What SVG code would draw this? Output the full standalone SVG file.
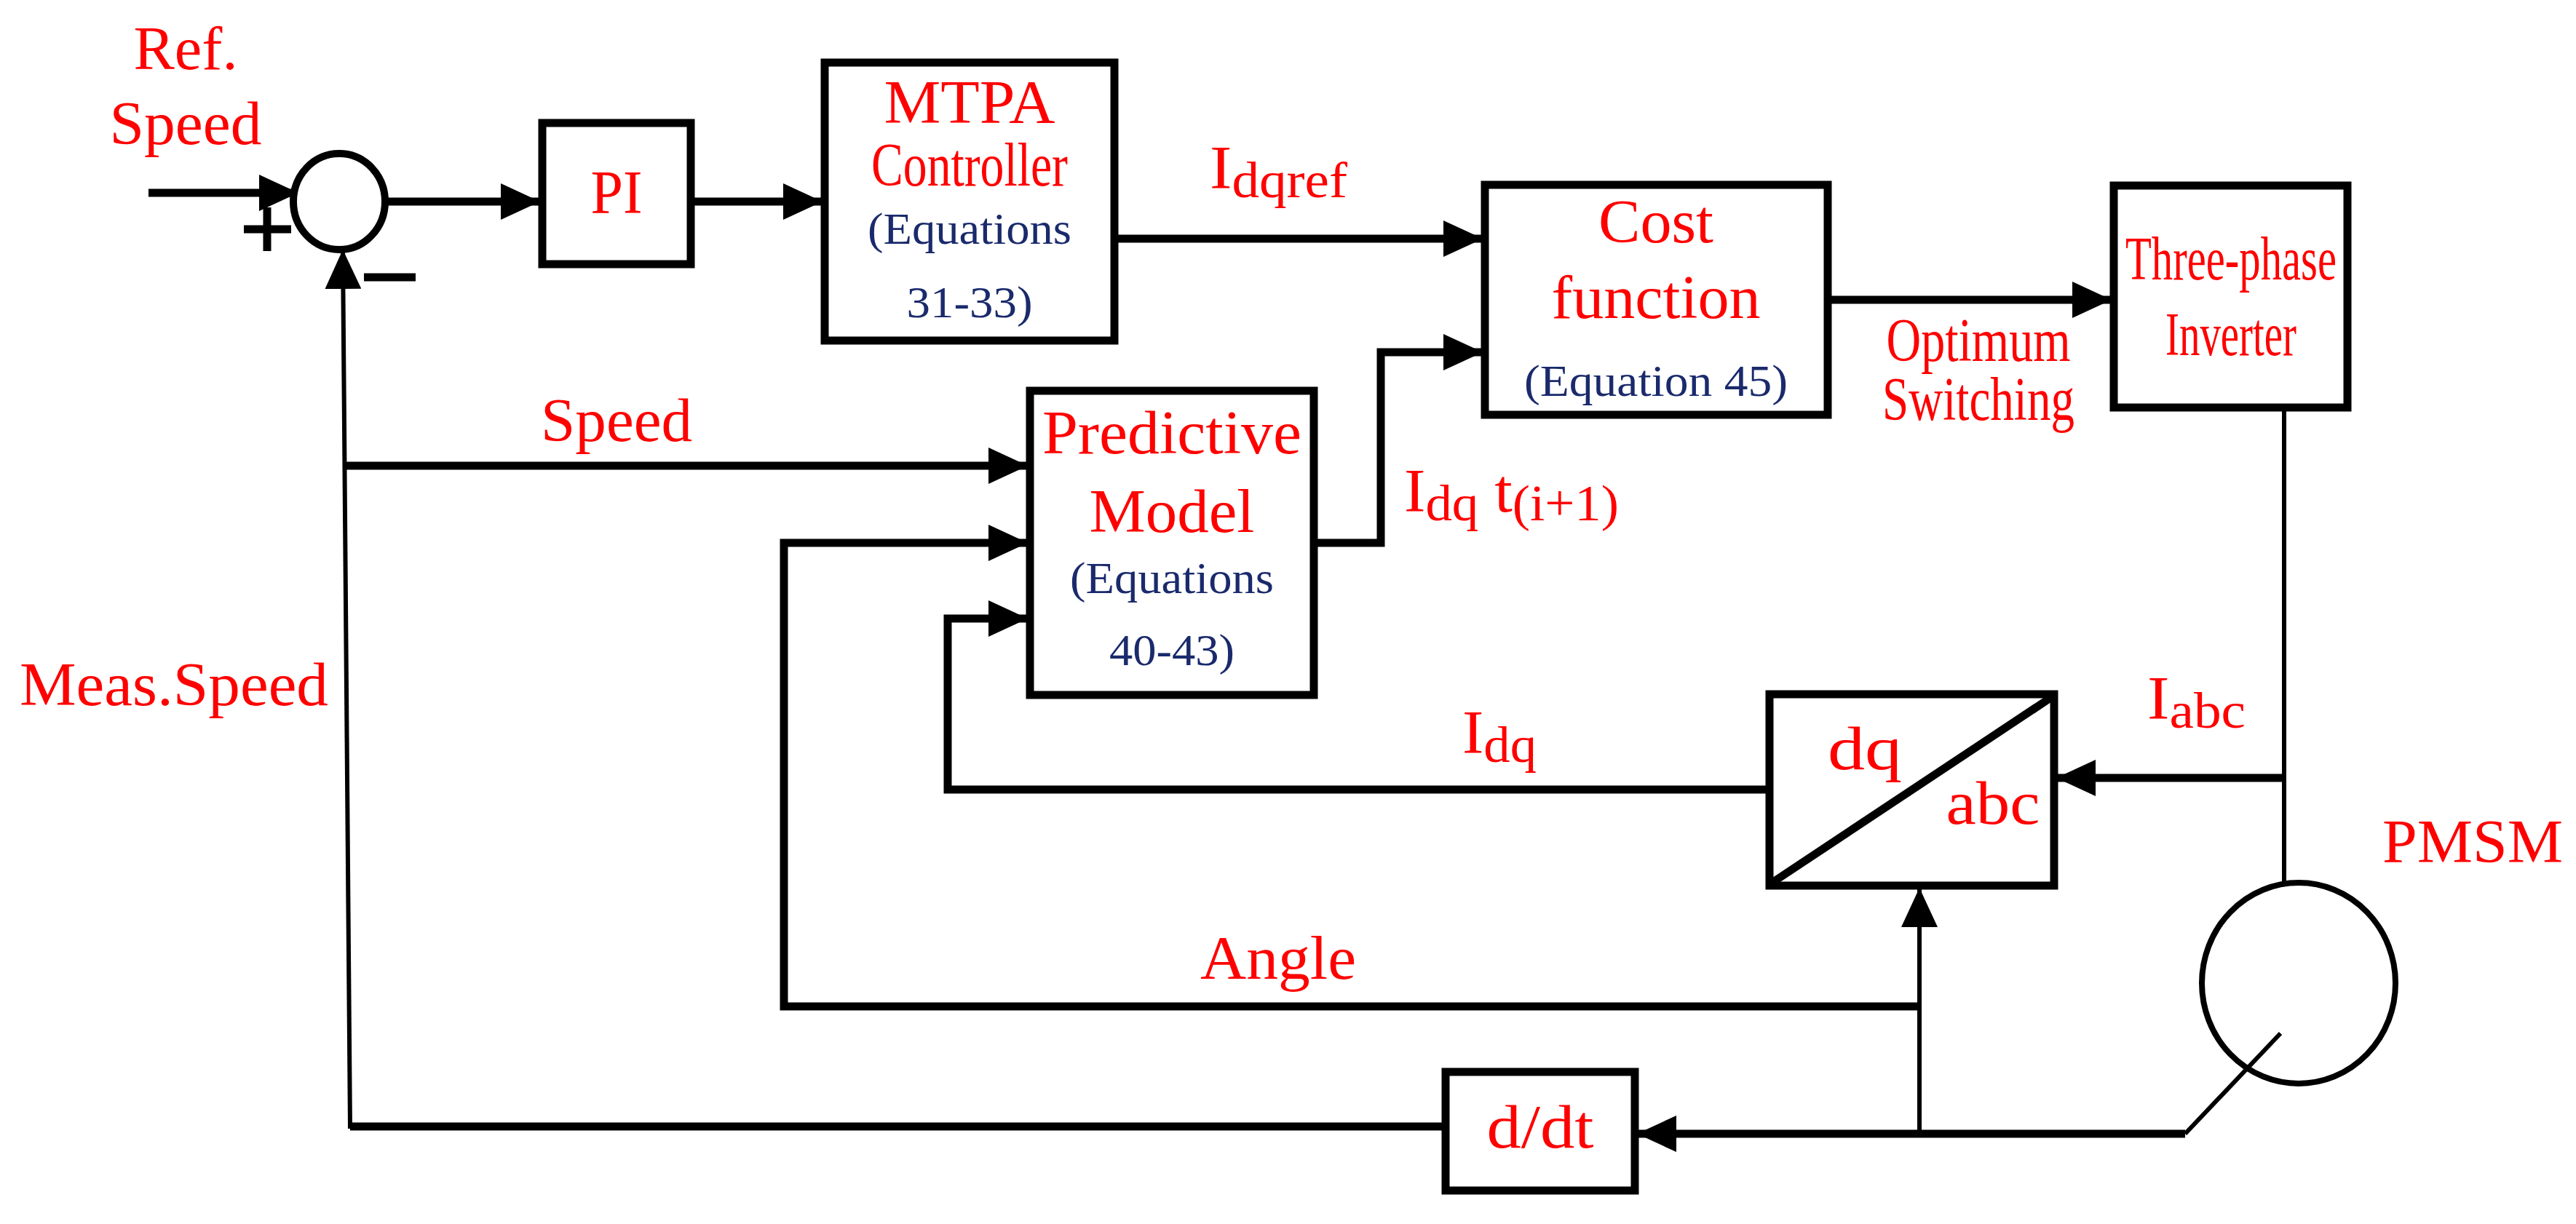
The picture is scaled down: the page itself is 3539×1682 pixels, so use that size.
<svg xmlns="http://www.w3.org/2000/svg" width="3539" height="1682" viewBox="0 0 3539 1682">
<style>
.box{fill:#fff;stroke:#000;stroke-width:11}
.ln{fill:none;stroke:#000;stroke-width:11}
.tn{fill:none;stroke:#000;stroke-width:6}
.r{fill:#f00;font-family:"Liberation Serif",serif;font-size:85px}
.b{fill:#1a2a6c;font-family:"Liberation Serif",serif;font-size:62px}
.m{text-anchor:middle}
</style>
<defs>
<marker id="ah" markerUnits="userSpaceOnUse" markerWidth="56" markerHeight="50" refX="52" refY="25" orient="auto">
<path d="M0,0 L54,25 L0,50 Z" fill="#000"/>
</marker>
</defs>
<rect width="3539" height="1682" fill="#fff"/>
<g id="connectors">
<path class="ln" d="M204,265 H408" marker-end="url(#ah)"/>
<path class="ln" d="M531,277 H740" marker-end="url(#ah)"/>
<path class="ln" d="M949,277 H1128" marker-end="url(#ah)"/>
<path class="ln" d="M1531,328 H2035" marker-end="url(#ah)"/>
<path class="ln" d="M1805,746 H1897 V484 H2035" marker-end="url(#ah)"/>
<path class="ln" d="M2511,412 H2899" marker-end="url(#ah)"/>
<path class="tn" d="M3138,560 V1216"/>
<path class="ln" d="M3138,1069 H2827" marker-end="url(#ah)"/>
<path class="ln" d="M2431,1085 H1302 V850 H1410" marker-end="url(#ah)"/>
<path class="ln" d="M2637,1383 H1077 V746 H1410" marker-end="url(#ah)"/>
<path class="tn" d="M3133,1420 L3002,1558"/>
<path class="ln" d="M3002,1558 H2251" marker-end="url(#ah)"/>
<path class="tn" d="M2637,1558 V1222" marker-end="url(#ah)"/>
<path class="ln" d="M1986,1548 H481"/>
<path class="tn" d="M481,1551 L471,345" marker-end="url(#ah)"/>
<path class="ln" d="M471,640 H1410" marker-end="url(#ah)"/>
</g>
<g id="sum">
<ellipse cx="466" cy="277" rx="63" ry="66" fill="#fff" stroke="#000" stroke-width="10"/>
<path class="ln" d="M335,315 H400 M367,285 V345"/>
<path class="ln" d="M500,381 H571"/>
</g>
<g id="refspeed">
<text class="r m" x="255" y="95" textLength="143" lengthAdjust="spacingAndGlyphs">Ref.</text>
<text class="r m" x="255" y="198" textLength="209" lengthAdjust="spacingAndGlyphs">Speed</text>
</g>
<g id="pi"><rect class="box" x="745" y="169" width="204" height="194"/><text class="r m" x="847" y="293" textLength="71" lengthAdjust="spacingAndGlyphs">PI</text></g>
<g id="mtpa"><rect class="box" x="1133" y="86" width="398" height="382"/>
<text class="r m" x="1332" y="169" font-size="92" textLength="235" lengthAdjust="spacingAndGlyphs">MTPA</text>
<text class="r m" x="1332" y="255" font-size="72" textLength="270" lengthAdjust="spacingAndGlyphs">Controller</text>
<text class="b m" x="1332" y="335" font-size="70" textLength="280" lengthAdjust="spacingAndGlyphs">(Equations</text>
<text class="b m" x="1332" y="436" font-size="70" textLength="173" lengthAdjust="spacingAndGlyphs">31-33)</text></g>
<g id="cost"><rect class="box" x="2040" y="254" width="471" height="316"/>
<text class="r m" x="2275" y="333" font-size="95" textLength="158" lengthAdjust="spacingAndGlyphs">Cost</text>
<text class="r m" x="2275" y="437" font-size="95" textLength="287" lengthAdjust="spacingAndGlyphs">function</text>
<text class="b m" x="2275" y="544" font-size="70" textLength="362" lengthAdjust="spacingAndGlyphs">(Equation 45)</text></g>
<g id="inverter"><rect class="box" x="2904" y="255" width="321" height="305"/>
<text class="r m" x="3065" y="384" font-size="95" textLength="290" lengthAdjust="spacingAndGlyphs">Three-phase</text>
<text class="r m" x="3065" y="488" font-size="95" textLength="180" lengthAdjust="spacingAndGlyphs">Inverter</text></g>
<g id="predictive"><rect class="box" x="1415" y="537" width="390" height="418"/>
<text class="r m" x="1610" y="623" font-size="95" textLength="356" lengthAdjust="spacingAndGlyphs">Predictive</text>
<text class="r m" x="1610" y="731" font-size="95" textLength="227" lengthAdjust="spacingAndGlyphs">Model</text>
<text class="b m" x="1610" y="815" font-size="70" textLength="280" lengthAdjust="spacingAndGlyphs">(Equations</text>
<text class="b m" x="1610" y="914" font-size="70" textLength="172" lengthAdjust="spacingAndGlyphs">40-43)</text></g>
<g id="dqabc"><rect class="box" x="2431" y="954" width="391" height="263"/>
<path class="ln" d="M2436,1212 L2817,959"/>
<text class="r m" x="2562" y="1057" textLength="102" lengthAdjust="spacingAndGlyphs">dq</text>
<text class="r m" x="2738" y="1132" textLength="129" lengthAdjust="spacingAndGlyphs">abc</text></g>
<g id="ddt"><rect class="box" x="1986" y="1473" width="260" height="163"/>
<text class="r m" x="2116" y="1577" textLength="147" lengthAdjust="spacingAndGlyphs">d/dt</text></g>
<g id="pmsm"><ellipse cx="3158" cy="1351" rx="133" ry="138" fill="none" stroke="#000" stroke-width="8"/>
<text class="r" x="3273" y="1185" textLength="248" lengthAdjust="spacingAndGlyphs">PMSM</text></g>
<g id="labels">
<text class="r" x="1662" y="259" textLength="189" lengthAdjust="spacingAndGlyphs">I<tspan font-size="70" dy="12">dqref</tspan></text>
<text class="r" x="1929" y="703" textLength="295" lengthAdjust="spacingAndGlyphs">I<tspan font-size="70" dy="12">dq</tspan><tspan dy="-12"> t</tspan><tspan font-size="70" dy="12">(i+1)</tspan></text>
<text class="r m" x="2718" y="496" font-size="64" textLength="253" lengthAdjust="spacingAndGlyphs">Optimum</text>
<text class="r m" x="2718" y="577" font-size="64" textLength="264" lengthAdjust="spacingAndGlyphs">Switching</text>
<text class="r m" x="847" y="606" textLength="208" lengthAdjust="spacingAndGlyphs">Speed</text>
<text class="r" x="27" y="969" textLength="424" lengthAdjust="spacingAndGlyphs">Meas.Speed</text>
<text class="r" x="2009" y="1035" textLength="102" lengthAdjust="spacingAndGlyphs">I<tspan font-size="70" dy="12">dq</tspan></text>
<text class="r" x="2950" y="988" textLength="135" lengthAdjust="spacingAndGlyphs">I<tspan font-size="70" dy="12">abc</tspan></text>
<text class="r m" x="1756" y="1345" textLength="214" lengthAdjust="spacingAndGlyphs">Angle</text>
</g>
</svg>
